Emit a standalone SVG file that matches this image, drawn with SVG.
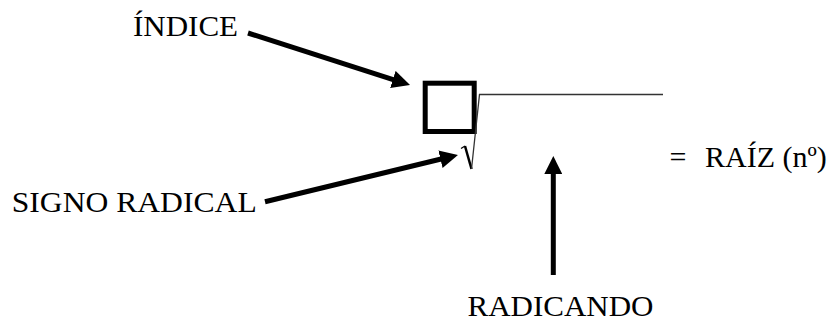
<svg xmlns="http://www.w3.org/2000/svg" width="833" height="322" viewBox="0 0 833 322">
  <style>
    .lbl { font-family: "Liberation Serif", "Times New Roman", serif; font-size: 30px; fill: #000; }
    .arrow { stroke: #000; stroke-width: 5; fill: none; marker-end: url(#head); }
  </style>
  <defs>
    <marker id="head" markerUnits="userSpaceOnUse" markerWidth="18" markerHeight="18" refX="6" refY="9" orient="auto">
      <path d="M0,0 L18,9 L0,18 z" fill="#000"/>
    </marker>
  </defs>
  <rect width="833" height="322" fill="#fff"/>

  <g id="radical">
    <rect x="425.2" y="83.2" width="49" height="48.3" fill="none" stroke="#000" stroke-width="5"/>
    <path d="M461,148.5 L465,146" stroke="#000" stroke-width="1.2" fill="none"/>
    <path d="M465,146 L471.5,169" stroke="#000" stroke-width="2.5" fill="none"/>
    <path d="M471.5,169 L479.5,94.5 L663,94.5" stroke="#333" stroke-width="1.3" fill="none"/>
  </g>

  <g id="indice">
    <text class="lbl" x="133" y="36" textLength="105" lengthAdjust="spacingAndGlyphs">ÍNDICE</text>
  </g>
  <g id="signo">
    <text class="lbl" x="11.7" y="212" textLength="245" lengthAdjust="spacingAndGlyphs">SIGNO RADICAL</text>
  </g>
  <g id="radicando">
    <text class="lbl" x="467.5" y="316" textLength="186" lengthAdjust="spacingAndGlyphs">RADICANDO</text>
  </g>
  <g id="raiz">
    <text class="lbl" x="669.5" y="166.7">=</text>
    <text class="lbl" x="705" y="166.7">RAÍZ (nº)</text>
  </g>

  <g id="connectors">
    <line class="arrow" x1="248" y1="33" x2="398.6" y2="81.3"/>
    <line class="arrow" x1="265" y1="201.7" x2="446.3" y2="157.8"/>
    <line class="arrow" x1="553.3" y1="275" x2="553.3" y2="168"/>
  </g>
</svg>
